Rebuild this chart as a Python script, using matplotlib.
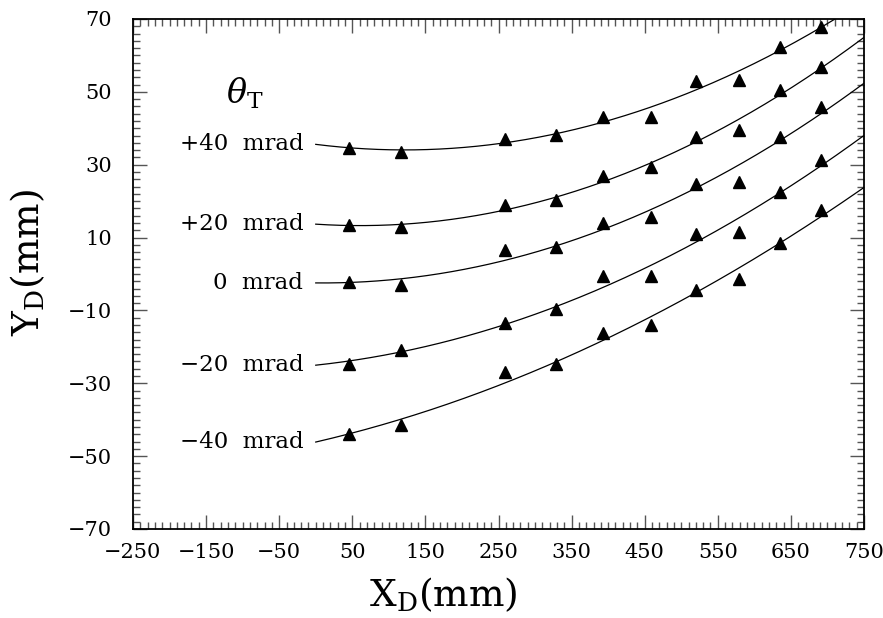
import numpy as np
import matplotlib
matplotlib.use("Agg")
import matplotlib.pyplot as plt
from matplotlib.ticker import MultipleLocator, FixedLocator

plt.rcParams['font.family'] = ['DejaVu Serif']
plt.rcParams['mathtext.fontset'] = 'dejavuserif'

# Data
x_mm = [45, 117, 259, 329, 393, 459, 520, 579, 635, 691]
y_p40 = [34.7, 33.5, 37.1, 38.2, 43.0, 43.2, 52.9, 53.3, 62.4, 67.9]
y_p20 = [13.5, 12.8, 18.9, 20.2, 26.8, 29.3, 37.6, 39.4, 50.6, 56.8]
y_0 = [-2.2, -3.1, 6.7, 7.4, 14.1, 15.6, 24.8, 25.2, 37.7, 45.8]
y_m20 = [-24.6, -20.9, -13.4, -9.5, -0.6, -0.6, 11.1, 11.5, 22.6, 31.2]
y_m40 = [-43.8, -41.5, -26.9, -24.8, -16.2, -13.9, -4.5, -1.3, 8.5, 17.6]
series = [y_p40, y_p20, y_0, y_m20, y_m40]
labels = ["+40  mrad", "+20  mrad", "0  mrad", "\u221220  mrad", "\u221240  mrad"]
xticks = [-250, -150, -50, 50, 150, 250, 350, 450, 550, 650, 750]
yticks = [-70, -50, -30, -10, 10, 30, 50, 70]

fig = plt.figure(figsize=(8.83, 6.18), dpi=100)
ax = fig.add_axes([133/883, 1-529/618, (864-133)/883, (529-19)/618])
ax.set_xlim(-250, 750)
ax.set_ylim(-70, 70)

xs = np.linspace(0, 750, 400)
for ys, lab in zip(series, labels):
    c = np.polyfit(x_mm, ys, 2)
    yfit = np.polyval(c, xs)
    ax.plot(xs, yfit, color='black', lw=0.9, clip_on=True)
    ax.plot(x_mm, ys, linestyle='none', marker='^', ms=8.5, color='black')
    ax.text(-17, yfit[0], lab, ha='right', va='center', fontsize=16.5)

ax.text(-97, 49.5, r'$\theta_{\rm T}$', ha='center', va='center', fontsize=24)

ax.xaxis.set_major_locator(FixedLocator(xticks))
ax.xaxis.set_minor_locator(MultipleLocator(10))
ax.yaxis.set_major_locator(FixedLocator(yticks))
ax.yaxis.set_minor_locator(MultipleLocator(2))
ax.tick_params(which='both', direction='in', top=True, right=True, color='#555555', width=1.0)
ax.tick_params(which='major', length=10, labelsize=15)
ax.tick_params(which='minor', length=5)
ax.tick_params(axis='x', which='major', pad=10)
ax.tick_params(axis='y', which='major', pad=15)
for s in ax.spines.values():
    s.set_linewidth(1.3)

fig.text(443/883, 1-595/618, r'X$_{\rm D}$(mm)', ha='center', va='center', fontsize=27)
fig.text(28/883, 1-263/618, r'Y$_{\rm D}$(mm)', ha='center', va='center', fontsize=27, rotation=90)

fig.savefig('out.png', dpi=100)
